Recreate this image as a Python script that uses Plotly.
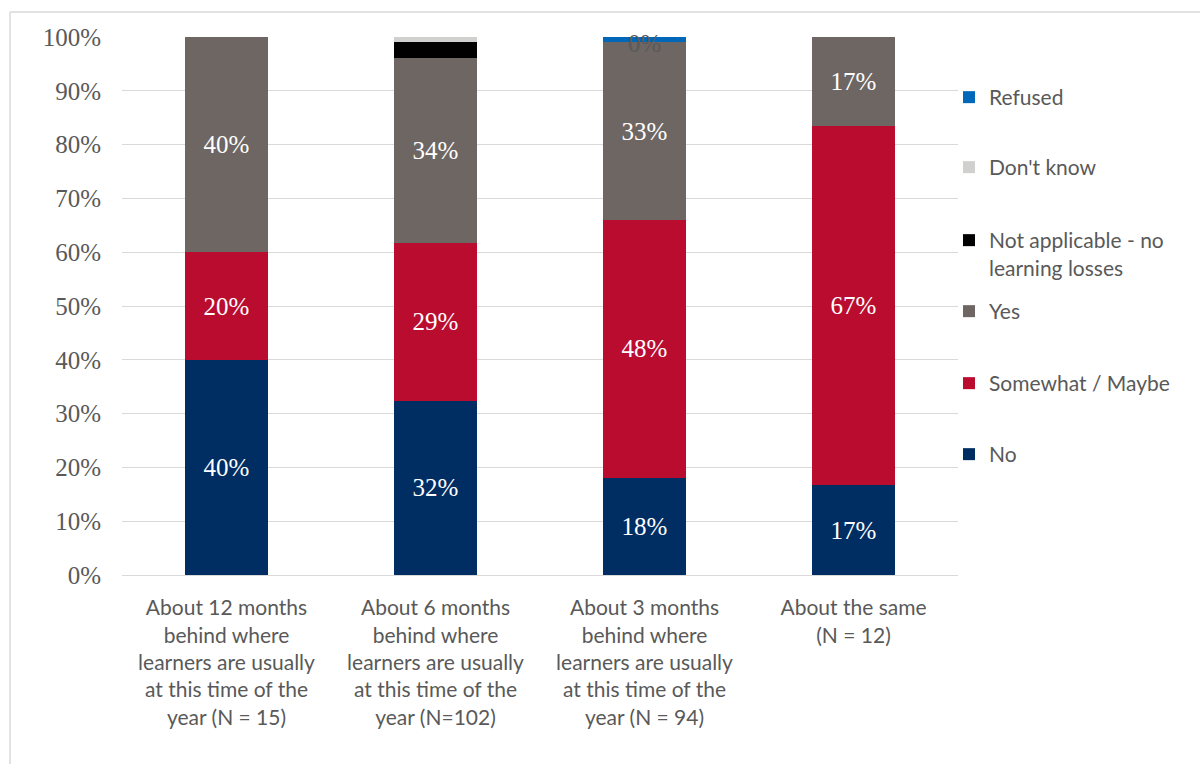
import plotly.graph_objects as go

categories = [
    "About 12 months<br>behind where<br>learners are usually<br>at this time of the<br>year (N = 15)",
    "About 6 months<br>behind where<br>learners are usually<br>at this time of the<br>year (N=102)",
    "About 3 months<br>behind where<br>learners are usually<br>at this time of the<br>year (N = 94)",
    "About the same<br>(N = 12)",
]

no_vals = [40.0, 32.4, 18.1, 16.7]
somewhat_vals = [20.0, 29.4, 47.9, 66.7]
yes_vals = [40.0, 34.3, 33.0, 16.7]
na_vals = [0.0, 2.9, 0.0, 0.0]
dk_vals = [0.0, 1.0, 0.0, 0.0]
refused_vals = [0.0, 0.0, 1.0, 0.0]

# which segments carry a data label
dk_labels = ["", "", "0%", ""]

series = [
    ("No", no_vals, "#002D62", True),
    ("Somewhat / Maybe", somewhat_vals, "#BA0C2F", True),
    ("Yes", yes_vals, "#6E6663", True),
    ("Not applicable - no<br>learning losses", na_vals, "#000000", False),
    ("Don't know", dk_vals, "#D0D0CE", False),
    ("Refused", refused_vals, "#0067B9", False),
]

legend_y_px = [454, 383, 311, 240, 167, 97]  # centre of first line of each legend entry

W, H = 1200, 764
ML, MR, MT, MB = 122, 242, 37, 189
PW, PH = W - ML - MR, H - MT - MB

fig = go.Figure()
layout_legends = {}
for i, (name, vals, color, labelled) in enumerate(series):
    lg = "legend" if i == 0 else f"legend{i+1}"
    text = [f"{v:.0f}%" if labelled else "" for v in vals]
    fig.add_trace(go.Bar(
        x=categories, y=vals, name=name,
        marker=dict(color=color, line=dict(width=0)),
        text=text, textposition="inside", insidetextanchor="middle",
        textfont=dict(family="Liberation Serif", size=25, color="white"),
        legend=lg,
        hoverinfo="skip",
    ))
    ypx = legend_y_px[i]
    layout_legends[lg] = dict(
        x=(949 - ML) / PW, xanchor="left",
        y=1 - (ypx - 20 - MT) / PH, yanchor="top",
        font=dict(family="Lato", size=21, color="#595959"),
        bgcolor="rgba(0,0,0,0)", valign="top",
        itemwidth=30,
    )

# data label for zero-height "Don't know" segment in bar 3
tops = [sum(s[1][k] for s in series) for k in range(len(categories))]
for k, lab in enumerate(dk_labels):
    if lab:
        fig.add_annotation(x=categories[k], y=min(tops[k], 100), text=lab, showarrow=False,
                           font=dict(family="Liberation Serif", size=25, color="#595959"),
                           yanchor="middle", yshift=-6)

fig.update_layout(
    width=W, height=H,
    margin=dict(l=ML, r=MR, t=MT, b=MB),
    barmode="stack", bargap=0.6,
    plot_bgcolor="white", paper_bgcolor="white",
    showlegend=True,
    **layout_legends,
)
fig.update_yaxes(
    range=[0, 100], dtick=10, ticksuffix="%",
    showgrid=True, gridcolor="#D9D9D9", gridwidth=1.3,
    zeroline=False, showline=False,
    tickfont=dict(family="Liberation Serif", size=25, color="#595959"),
    ticks="", ticklabelstandoff=20,
)
fig.update_xaxes(
    showline=True, linecolor="#D9D9D9", linewidth=1.3,
    tickfont=dict(family="Lato", size=21, color="#595959"),
    ticks="", ticklabelstandoff=14,
)

# chart frame
fx = (10 - ML) / PW
fy = 1 + (MT - 12) / PH
fig.add_shape(type="line", xref="paper", yref="paper", x0=fx, x1=fx, y0=-1, y1=fy,
              line=dict(color="#D9D9D9", width=1.5))
fig.add_shape(type="line", xref="paper", yref="paper", x0=fx, x1=2, y0=fy, y1=fy,
              line=dict(color="#D9D9D9", width=1.5))

fig.write_html("out.html")
